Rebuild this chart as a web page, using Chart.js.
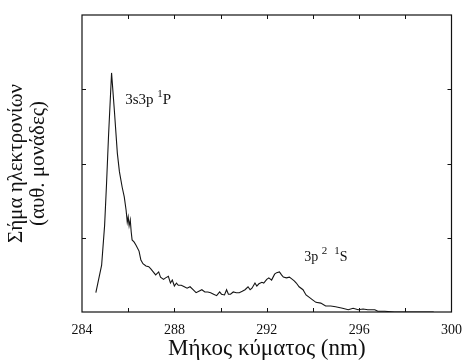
<!DOCTYPE html>
<html>
<head>
    <title>Φάσμα ηλεκτρονίων</title>
    <script src="https://cdn.jsdelivr.net/npm/chart.js"></script>
    <style>
        html, body { margin: 0; padding: 0; background: #fff; }
        #wrap { width: 472px; height: 363px; }
    </style>
</head>
<body>
    <div id="wrap"><canvas id="spectrum" width="472" height="363"></canvas></div>

    <script>
        // Wavelength (nm) and electron signal (arb. units)
        const wavelength = [
            284.60, 284.68, 284.85, 284.98, 285.06, 285.15, 285.28, 285.40, 285.53, 285.62,
            285.74, 285.83, 285.91, 285.96, 286.00, 286.04, 286.09, 286.13, 286.17, 286.26,
            286.34, 286.47, 286.55, 286.64, 286.77, 286.89, 286.98, 287.11, 287.19, 287.32,
            287.40, 287.53, 287.62, 287.74, 287.83, 287.91, 288.00, 288.09, 288.17, 288.30,
            288.43, 288.55, 288.68, 288.81, 288.94, 289.06, 289.19, 289.32, 289.45, 289.57,
            289.70, 289.83, 289.96, 290.04, 290.17, 290.26, 290.34, 290.43, 290.55, 290.68,
            290.81, 290.94, 291.06, 291.19, 291.28, 291.36, 291.49, 291.57, 291.66, 291.79,
            291.87, 292.00, 292.09, 292.21, 292.34, 292.43, 292.55, 292.64, 292.72, 292.85,
            292.98, 293.11, 293.19, 293.28, 293.40, 293.57, 293.70, 293.83, 294.00, 294.13,
            294.34, 294.55, 294.77, 294.98, 295.28, 295.53, 295.74, 295.96, 296.17, 296.38,
            296.68, 296.81, 297.11, 297.53, 298.38, 299.23
        ];
        const signal = [
            0.26, 0.38, 0.63, 1.17, 1.71, 2.38, 3.22, 2.72, 2.14, 1.89,
            1.68, 1.55, 1.37, 1.21, 1.28, 1.16, 1.24, 1.08, 0.97, 0.94,
            0.90, 0.82, 0.70, 0.65, 0.62, 0.61, 0.58, 0.53, 0.50, 0.54,
            0.47, 0.44, 0.46, 0.48, 0.39, 0.43, 0.35, 0.39, 0.36, 0.36,
            0.34, 0.32, 0.34, 0.30, 0.26, 0.28, 0.30, 0.27, 0.27, 0.26,
            0.24, 0.22, 0.27, 0.24, 0.23, 0.30, 0.24, 0.24, 0.27, 0.26,
            0.26, 0.28, 0.30, 0.34, 0.30, 0.32, 0.39, 0.35, 0.38, 0.40,
            0.39, 0.44, 0.46, 0.43, 0.51, 0.53, 0.54, 0.50, 0.47, 0.46,
            0.47, 0.44, 0.42, 0.39, 0.34, 0.30, 0.23, 0.20, 0.16, 0.13,
            0.12, 0.08, 0.08, 0.07, 0.05, 0.03, 0.05, 0.03, 0.04, 0.03,
            0.03, 0.01, 0.01, 0.00, 0.00, 0.00
        ];

        const xRange = [284, 300];
        const yRange = [0, 4];

        // State labels: text pieces (sup = superscript) and the data point they sit at
        const stateLabels = [
            { x: 285.87, y: 2.80, size: 15, parts: [{ t: '3s3p ' }, { t: '1', sup: true }, { t: 'P' }] },
            { x: 293.62, y: 0.69, size: 14, parts: [{ t: '3p ' }, { t: '2', sup: true }, { t: '  ' }, { t: '1', sup: true }, { t: 'S' }] }
        ];

        const serif = '"Liberation Serif", "DejaVu Serif", serif';

        // Frame around the plot, inward ticks on all four sides, state labels
        const framePlugin = {
            id: 'frame',
            afterDatasetsDraw(chart) {
                const { ctx, chartArea: a, scales: { x, y } } = chart;
                ctx.save();
                ctx.strokeStyle = '#111';
                ctx.lineWidth = 1.2;
                ctx.strokeRect(a.left, a.top, a.right - a.left, a.bottom - a.top);

                ctx.lineWidth = 1;
                ctx.beginPath();
                for (let v = xRange[0] + 2; v < xRange[1]; v += 2) {
                    const px = Math.round(x.getPixelForValue(v)) + 0.5;
                    ctx.moveTo(px, a.bottom); ctx.lineTo(px, a.bottom - 4);
                    ctx.moveTo(px, a.top); ctx.lineTo(px, a.top + 4);
                }
                for (let v = yRange[0] + 1; v < yRange[1]; v += 1) {
                    const py = Math.round(y.getPixelForValue(v)) + 0.5;
                    ctx.moveTo(a.left, py); ctx.lineTo(a.left + 4, py);
                    ctx.moveTo(a.right, py); ctx.lineTo(a.right - 4, py);
                }
                ctx.stroke();

                ctx.fillStyle = '#111';
                ctx.textBaseline = 'alphabetic';
                stateLabels.forEach(lab => {
                    let px = x.getPixelForValue(lab.x);
                    const py = y.getPixelForValue(lab.y);
                    lab.parts.forEach(p => {
                        const fs = p.sup ? Math.round(lab.size * 0.75) : lab.size;
                        ctx.font = fs + 'px ' + serif;
                        ctx.fillText(p.t, px, p.sup ? py - lab.size * 0.45 : py);
                        px += ctx.measureText(p.t).width;
                    });
                });
                ctx.restore();
            }
        };

        const chart = new Chart(document.getElementById('spectrum').getContext('2d'), {
            type: 'line',
            data: {
                datasets: [{
                    data: wavelength.map((w, i) => ({ x: w, y: signal[i] })),
                    borderColor: '#151515',
                    borderWidth: 1.1,
                    pointRadius: 0,
                    tension: 0,
                    fill: false
                }]
            },
            options: {
                responsive: false,
                animation: false,
                layout: { padding: { top: 15, right: 14, bottom: 0, left: 0 } },
                plugins: { legend: { display: false }, tooltip: { enabled: false } },
                scales: {
                    x: {
                        type: 'linear',
                        min: xRange[0],
                        max: xRange[1],
                        grid: { display: false, drawTicks: false },
                        border: { display: false },
                        ticks: {
                            stepSize: 4,
                            padding: 10,
                            color: '#111',
                            font: { family: serif, size: 14 }
                        },
                        title: {
                            display: true,
                            text: 'Μήκος κύματος (nm)',
                            color: '#111',
                            padding: { top: 0, bottom: 0 },
                            font: { family: serif, size: 23 }
                        },
                        afterFit: s => { s.height = 51; }
                    },
                    y: {
                        min: yRange[0],
                        max: yRange[1],
                        grid: { display: false, drawTicks: false },
                        border: { display: false },
                        ticks: { display: false },
                        title: {
                            display: true,
                            text: ['Σήμα ηλεκτρονίων', '(αυθ. μονάδες)'],
                            color: '#111',
                            padding: { top: 5, bottom: 0 },
                            font: { family: serif, size: 21, lineHeight: 1.05 }
                        },
                        afterFit: s => { s.width = 82; }
                    }
                }
            },
            plugins: [framePlugin]
        });
    </script>
</body>
</html>
